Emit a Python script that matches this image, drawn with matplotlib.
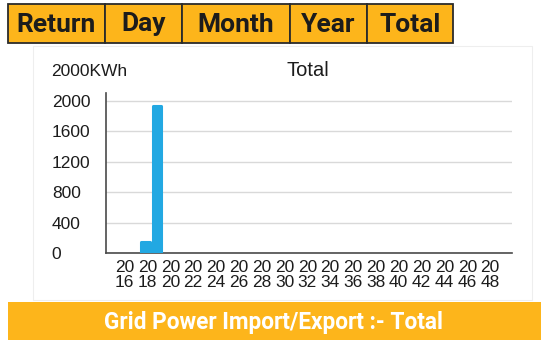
import matplotlib
matplotlib.use("Agg")
import matplotlib.pyplot as plt
from matplotlib.patches import Rectangle
from matplotlib.transforms import ScaledTranslation

# --- data -------------------------------------------------------------
tab_labels = ["Return", "Day", "Month", "Year", "Total"]
years = [2018, 2019]
energy_kwh = [140, 1940]
tick_years = list(range(2016, 2049, 2))
y_ticks = [0, 400, 800, 1200, 1600, 2000]
chart_title = "Total"
unit_label = "2000KWh"
banner_text = "Grid Power Import/Export :- Total"

# --- style ------------------------------------------------------------
ORANGE = "#FDB51B"
BAR_BLUE = "#22A8E2"
TEXT_DARK = "#1C1C1C"
W, H = 541, 340

fig = plt.figure(figsize=(W / 100, H / 100), dpi=100)
fig.patch.set_facecolor("white")

# overlay in pixel coordinates for the tab strip, card and banner
bg = fig.add_axes([0, 0, 1, 1])
bg.set_xlim(0, W)
bg.set_ylim(H, 0)
bg.axis("off")

# card behind the chart
bg.add_patch(Rectangle((33, 46), 499, 254, facecolor="white",
                       edgecolor="#EEEEEE", linewidth=0.8))

# tab strip
tab_edges = [8, 105, 182, 290, 367, 453]
for i, name in enumerate(tab_labels):
    x0, x1 = tab_edges[i], tab_edges[i + 1]
    bg.add_patch(Rectangle((x0, 4), x1 - x0, 39, facecolor=ORANGE,
                           edgecolor="#2B2B2B", linewidth=1.3))
    bg.text((x0 + x1) / 2, 24.5, name, ha="center", va="center",
            fontsize=19, fontweight="bold", family="Roboto", color=TEXT_DARK)

# bottom banner
bg.add_patch(Rectangle((8, 302), W - 8, 40, facecolor=ORANGE, edgecolor="none"))
bg.text(273, 322, banner_text, ha="center", va="center", fontsize=16.3,
        fontweight="bold", family="Roboto", color="white")

# chart labels above the plot
bg.text(51, 72, unit_label, ha="left", va="center", fontsize=12.5,
        family="Liberation Sans", color=TEXT_DARK)
bg.text(308, 71, chart_title, ha="center", va="center", fontsize=14.5,
        family="Liberation Sans", color=TEXT_DARK)

# --- bar chart --------------------------------------------------------
ax_left, ax_right = 106, 512
ax_bottom, ax_top = 253, 93.4
ax = fig.add_axes([ax_left / W, (H - ax_bottom) / H,
                   (ax_right - ax_left) / W, (ax_bottom - ax_top) / H])
ax.set_facecolor("none")

bars = ax.bar(years, energy_kwh, width=0.72, color=BAR_BLUE,
              edgecolor=BAR_BLUE, linewidth=2.2, zorder=3)
for b in bars:
    b.set_joinstyle("round")

ax.set_xlim(2014.55, 2050.09)
ax.set_ylim(0, 2100)
ax.set_yticks(y_ticks)
ax.set_yticklabels([str(v) for v in y_ticks], family="Liberation Sans",
                   fontsize=12.5, color=TEXT_DARK, ha="left")
ax.set_xticks(tick_years)
ax.set_xticklabels([f"{str(y)[:2]}\n{str(y)[2:]}" for y in tick_years],
                   family="Liberation Sans", fontsize=12.5, color=TEXT_DARK,
                   linespacing=1.0)
ax.tick_params(axis="y", length=0, pad=39)
ax.tick_params(axis="x", length=0, pad=5)
shift = ScaledTranslation(2 / 100, 0, fig.dpi_scale_trans)
for lbl in ax.get_xticklabels():
    lbl.set_transform(lbl.get_transform() + shift)

ax.grid(axis="y", color="#D9D9D9", linewidth=1.0, zorder=0)
ax.set_axisbelow(True)
for side in ("top", "right"):
    ax.spines[side].set_visible(False)
for side in ("left", "bottom"):
    ax.spines[side].set_color("#4A4A4A")
    ax.spines[side].set_linewidth(1.2)

fig.savefig("out.png", dpi=100)
